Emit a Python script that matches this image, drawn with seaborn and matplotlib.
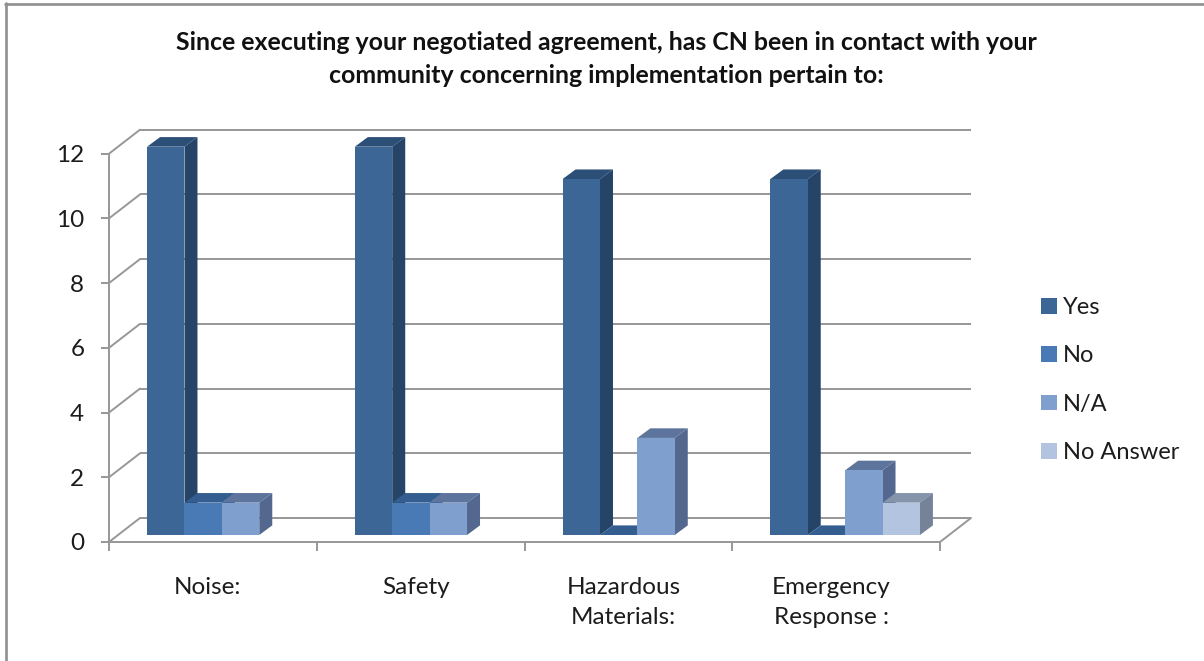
import matplotlib
matplotlib.use("Agg")
import matplotlib.pyplot as plt
from matplotlib.lines import Line2D
from matplotlib.patches import Polygon
from matplotlib.transforms import Affine2D
import pandas as pd
import seaborn as sns

categories = ["Noise:", "Safety", "Hazardous\nMaterials:", "Emergency\nResponse :"]
series_names = ["Yes", "No", "N/A", "No Answer"]
yes_values = [12, 12, 11, 11]
no_values = [1, 1, 0, 0]
na_values = [1, 1, 3, 2]
no_answer_values = [None, None, None, 1]
y_ticks = [0, 2, 4, 6, 8, 10, 12]
title_text = ("Since executing your negotiated agreement, has CN been in contact with your\n"
              "community concerning implementation pertain to:")

front_colors = ["#3B6696", "#4A7AB5", "#7F9FCE", "#B3C4E1"]
top_colors = ["#2C4F78", "#335E8F", "#5D749C", "#8593AB"]
side_colors = ["#264467", "#2F5483", "#54688F", "#758298"]
GRID = "#979797"
TEXT = "#1c1c1c"
LW = 1.4

W, H = 1204, 661
sns.set_theme(style="white")
plt.rcParams["font.family"] = ["Lato", "DejaVu Sans"]

rows = []
for cat, y, n, a, u in zip(categories, yes_values, no_values, na_values, no_answer_values):
    for name, val in zip(series_names, (y, n, a, u)):
        rows.append({"category": cat, "series": name, "value": val})
df = pd.DataFrame(rows)
df["value"] = pd.to_numeric(df["value"])

fig = plt.figure(figsize=(W / 100, H / 100), dpi=100, facecolor="white")
L, R, B, T = 109, 940, 542, 153.7
ax = fig.add_axes([L / W, 1 - B / H, (R - L) / W, (B - T) / H])

sns.barplot(data=df, x="category", y="value", hue="series", hue_order=series_names,
            order=categories, palette=front_colors, saturation=1, width=0.72, gap=0,
            errorbar=None, linewidth=0, ax=ax)
ax.set_xlim(-0.5, 3.5)
ax.set_ylim(0, 12)
ax.set_xlabel("")
ax.set_ylabel("")
ax.patch.set_alpha(0)

# 3D look: pixel offsets (display y points up) of the bar plane and the back wall
bar_plane = Affine2D().translate(9, 7)
wall = Affine2D().translate(31, 24)
base = ax.transData

# back wall gridlines and their diagonal connectors on the left side wall
x0, x1 = ax.get_xlim()
for v in y_ticks:
    ax.plot([x0, x1], [v, v], color=GRID, lw=LW, transform=base + wall, zorder=1,
            clip_on=False, solid_capstyle="butt")
    p0 = ax.transData.transform((x0, v))
    q0 = wall.transform(p0)
    fig.add_artist(Line2D([p0[0], q0[0]], [p0[1], q0[1]], color=GRID, lw=LW,
                          transform=None, zorder=1))
# floor right edge
p1 = ax.transData.transform((x1, 0))
q1 = wall.transform(p1)
fig.add_artist(Line2D([p1[0], q1[0]], [p1[1], q1[1]], color=GRID, lw=LW, transform=None, zorder=1))

# extrude each bar, left to right
bars = []
for idx, container in enumerate(ax.containers):
    for rect in container:
        if rect.get_height() == rect.get_height():
            bars.append((rect.get_x(), idx, rect))
bars.sort(key=lambda b: b[0])

for i, (_, idx, rect) in enumerate(bars):
    z = 3 + i * 0.1
    x, w, h = rect.get_x(), rect.get_width(), rect.get_height()
    pa = ax.transData.transform((x, 0))
    pb = ax.transData.transform((x + w, h))
    fl, fb = bar_plane.transform(pa)
    fr, ft = bar_plane.transform(pb)
    bdx, bdy = 13, 9.6
    ax.add_patch(Polygon([(fl, ft), (fr, ft), (fr + bdx, ft + bdy), (fl + bdx, ft + bdy)],
                         closed=True, fc=top_colors[idx], ec="none", transform=None,
                         zorder=z, clip_on=False))
    if h > 0:
        ax.add_patch(Polygon([(fr, fb), (fr + bdx, fb + bdy), (fr + bdx, ft + bdy), (fr, ft)],
                             closed=True, fc=side_colors[idx], ec="none", transform=None,
                             zorder=z, clip_on=False))
    rect.set_transform(base + bar_plane)
    rect.set_clip_on(False)
    rect.set_zorder(z + 0.05)

# axes furniture
sns.despine(ax=ax, top=True, right=True)
for s in ("left", "bottom"):
    ax.spines[s].set_color(GRID)
    ax.spines[s].set_linewidth(LW)
ax.set_yticks(y_ticks)
ax.set_xticks(range(len(categories)))
ax.set_xticklabels(categories, linespacing=1.48)
ax.set_xticks([-0.5, 0.5, 1.5, 2.5, 3.5], minor=True)
ax.tick_params(axis="y", length=5.8, width=LW, color=GRID, pad=12, labelsize=17.5, labelcolor=TEXT, left=True)
ax.tick_params(axis="x", which="major", length=0, pad=25.5, labelsize=17.5, labelcolor=TEXT)
ax.tick_params(axis="x", which="minor", length=6.5, width=LW, color=GRID, bottom=True)
for lab in ax.get_xticklabels():
    lab.set_transform(lab.get_transform() + Affine2D().translate(-5, 0))

# legend
sns.move_legend(ax, loc="upper left",
                bbox_to_anchor=((1041 - L) / (R - L), (B - 297) / (B - T)),
                title=None, frameon=False, fontsize=17, handlelength=0.66, handleheight=0.66,
                handletextpad=0.27, labelspacing=1.16, borderpad=0, borderaxespad=0)
for t in ax.get_legend().get_texts():
    t.set_color(TEXT)

# title
fig.text(606 / W, 1 - 59 / H, title_text, ha="center", va="center", fontsize=17.9,
         fontweight="bold", color="#111111", linespacing=1.55)

# outer frame
for xs, ys in (([6, 6], [3, H + 5]), ([5, W + 5], [4, 4])):
    fig.add_artist(Line2D([x / W for x in xs], [1 - y / H for y in ys], color="#8f8f8f", lw=1.9,
                          transform=fig.transFigure))

fig.savefig("out.png", dpi=100, facecolor="white")
